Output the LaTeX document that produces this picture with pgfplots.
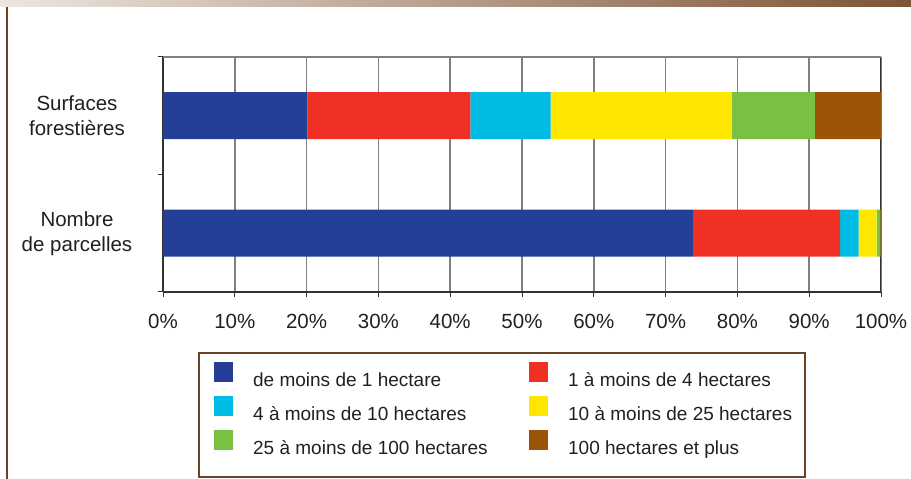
\documentclass[border=0pt]{standalone}
\usepackage{fontspec}
\setmainfont{Liberation Sans}
\usepackage{pgfplots}
\pgfplotsset{compat=1.18}
\definecolor{cBlue}{HTML}{233F97}
\definecolor{cRed}{HTML}{EE3124}
\definecolor{cCyan}{HTML}{00BCE4}
\definecolor{cYellow}{HTML}{FFE600}
\definecolor{cGreen}{HTML}{7AC143}
\definecolor{cBrown}{HTML}{9C5406}
\definecolor{topL}{HTML}{EDE6DF}
\definecolor{topR}{HTML}{7D5335}
\definecolor{leftline}{HTML}{6E3F1F}
\definecolor{legframe}{HTML}{6B4226}
\definecolor{axisdark}{HTML}{333333}
\definecolor{gridgray}{HTML}{808080}
\definecolor{textc}{HTML}{231F20}
\begin{document}
\begin{tikzpicture}[x=1pt,y=1pt]
\useasboundingbox (0,0) rectangle (911,479);
\fill[left color=topL,right color=topR] (0,472) rectangle (911,479);
\fill[leftline] (6,0) rectangle (8,472);
\draw[legframe, line width=2pt] (199,2) rectangle (805,126);
\begin{axis}[
  at={(163pt,187pt)}, anchor=south west,
  scale only axis, width=718pt, height=235pt,
  xbar stacked, bar width=47pt,
  xmin=0, xmax=100, ymin=-0.5, ymax=1.5,
  axis x line*=bottom, axis y line*=left,
  axis line style={-, draw=axisdark, line width=1.2pt},
  xtick={0,10,20,30,40,50,60,70,80,90,100},
  xticklabels={0\%,10\%,20\%,30\%,40\%,50\%,60\%,70\%,80\%,90\%,100\%},
  xticklabel style={yshift=-14pt},
  xmajorgrids, grid style={draw=gridgray, line width=1.5pt},
  tick align=outside, major tick length=5pt,
  tick style={draw=axisdark, line width=1pt},
  ytick={-0.5,0.5,1.5}, yticklabels={},
  extra y ticks={0,1},
  extra y tick labels={{Nombre\\de parcelles},{Surfaces\\forestières}},
  extra y tick style={major tick length=0pt,
    yticklabel style={align=center, anchor=center, xshift=-86pt}},
  tick label style={font=\fontsize{20.5}{25}\selectfont, text=textc},
  /pgf/number format/assume math mode=true,
  legend columns=2,
  legend cell align=left,
  legend style={at={(0.0710,-0.2980)}, anchor=north west, draw=none, fill=none,
    inner sep=0pt, font=\fontsize{19}{23}\selectfont, text=textc,
    nodes={inner sep=2pt, text height=14pt, text depth=4pt},
    row sep=4pt,
    /tikz/every odd column/.append style={column sep=18pt},
    /tikz/every even column/.append style={column sep=39.5pt}},
  legend image code/.code={\path[fill,#1,draw=none] (0pt,-1pt) rectangle (19pt,19pt);},
]
\addplot[fill=cBlue, draw=none] coordinates {(73.8,0) (20.1,1)};
\addplot[fill=cRed, draw=none] coordinates {(20.5,0) (22.7,1)};
\addplot[fill=cCyan, draw=none] coordinates {(2.6,0) (11.2,1)};
\addplot[fill=cYellow, draw=none] coordinates {(2.5,0) (25.2,1)};
\addplot[fill=cGreen, draw=none] coordinates {(0.5,0) (11.6,1)};
\addplot[fill=cBrown, draw=none] coordinates {(0.1,0) (9.2,1)};
\legend{de moins de 1 hectare, 1 à moins de 4 hectares, 4 à moins de 10 hectares, 10 à moins de 25 hectares, 25 à moins de 100 hectares, 100 hectares et plus}
\draw[gridgray, line width=1.5pt] (rel axis cs:0,1) -- (rel axis cs:1,1);
\draw[axisdark, line width=1.2pt] (rel axis cs:1,0) -- (rel axis cs:1,1);
\end{axis}
\end{tikzpicture}
\end{document}
